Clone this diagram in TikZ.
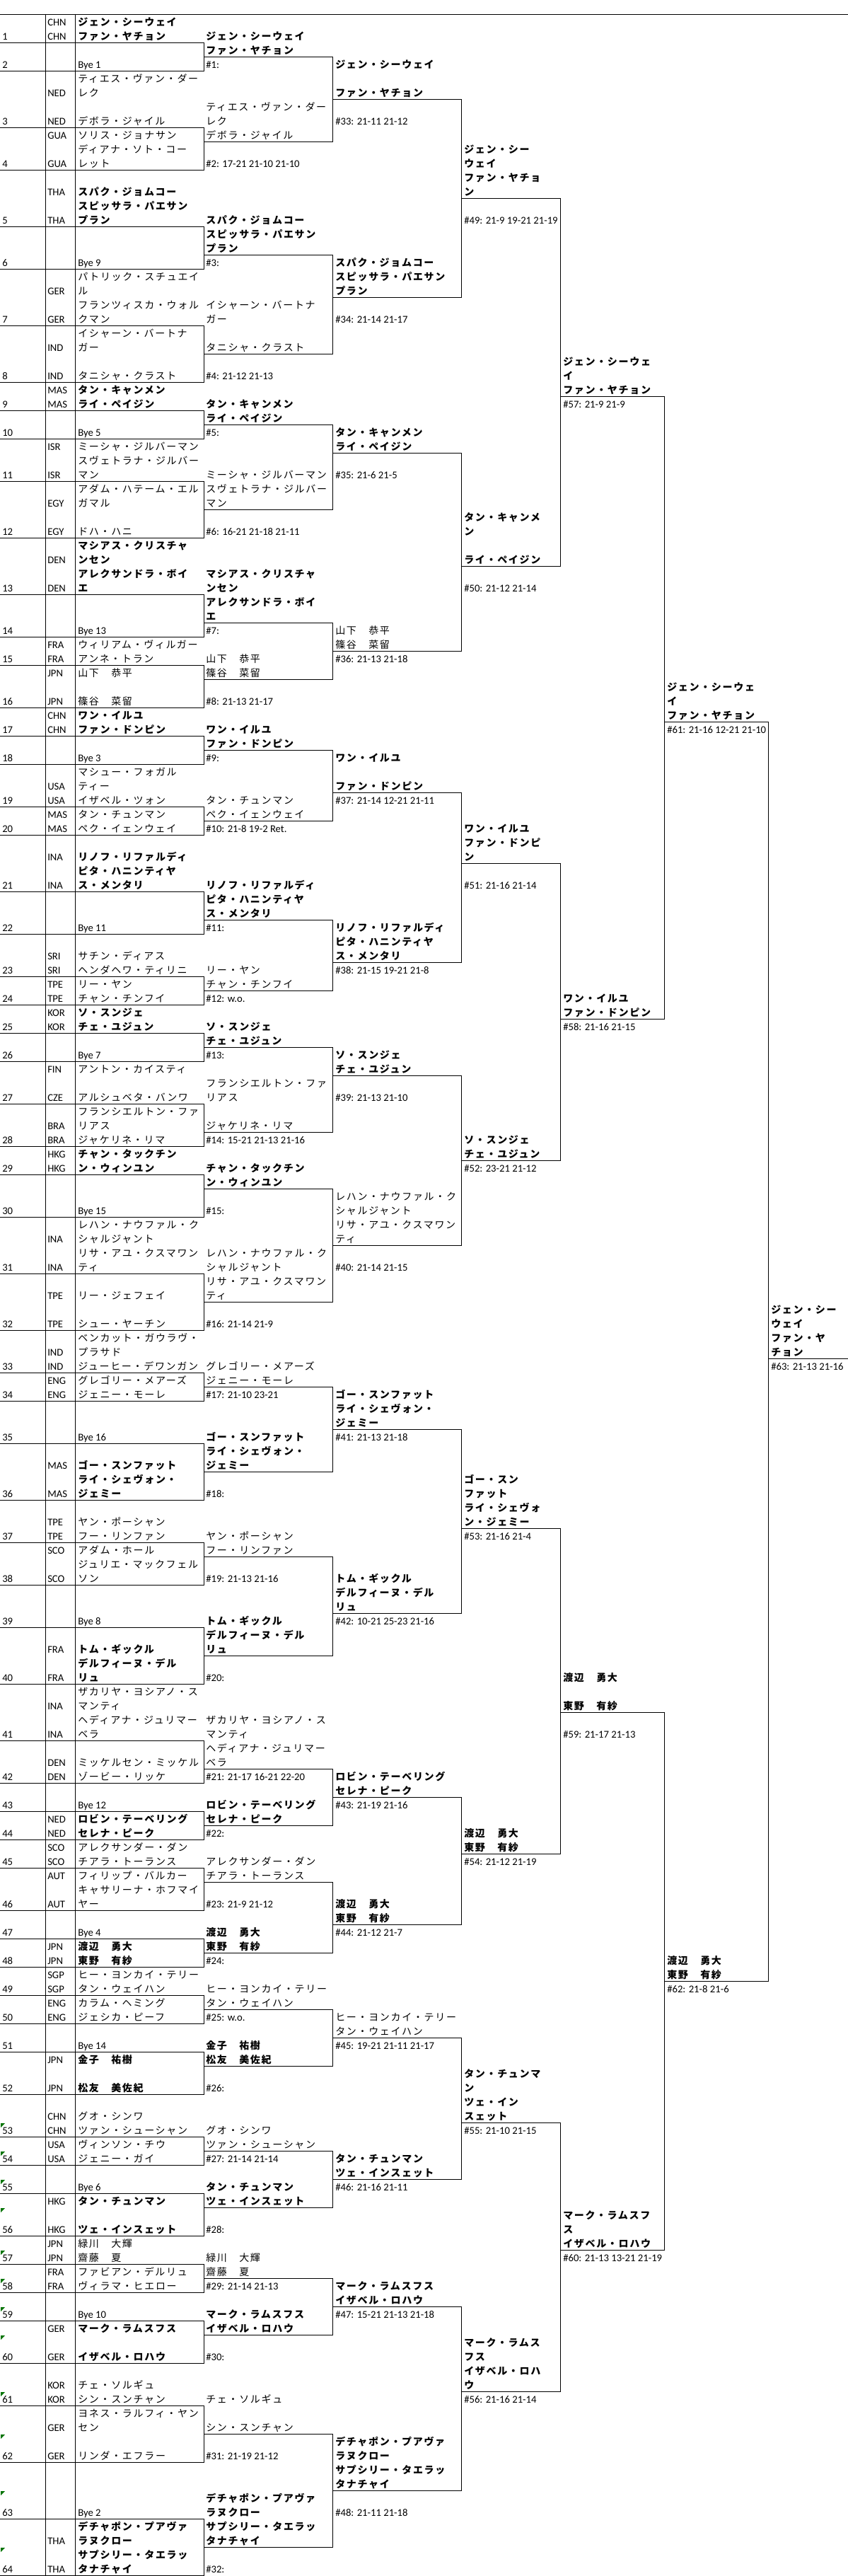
\documentclass[tikz,border=0pt]{standalone}
\usepackage{fontspec}
\setmainfont{Carlito}
\newfontfamily\jpfont[LetterSpace=12]{Noto Sans CJK JP}
\tikzset{
  lat/.style={font=\fontsize{11}{13}\selectfont, anchor=base west, inner sep=0pt},
  jpr/.style={font=\jpfont\fontsize{10.5}{12}\selectfont, anchor=base west, inner sep=0pt},
  jpb/.style={font=\jpfont\bfseries\fontsize{10.5}{12}\selectfont, anchor=base west, inner sep=0pt},
  rule/.style={line width=0.75pt, line cap=rect},
  flag/.style={fill=green!45!black},
}
\newcommand{\cjkr}[3]{\node[jpr] at (#1,#2.8) {#3};}
\newcommand{\cjkb}[3]{\node[jpb] at (#1,#2.8) {#3};}
\newcommand{\latn}[3]{\node[lat] at (#1,#2.8) {#3};}
\begin{document}
\begin{tikzpicture}[x=0.75pt, y=-15pt]
      \useasboundingbox (0,0) rectangle (1199,182.05);
      \begin{scope}[rule]
        \draw (0,1) -- (1199,1);
        \draw (64,1) -- (64,182) (106,1) -- (106,182);
        \draw
          (0,3) -- (288,3) (0,5) -- (288,5) (0,9) -- (288,9) (0,12) -- (288,12)
          (0,16) -- (288,16) (0,19) -- (288,19) (0,23) -- (288,23) (0,27) -- (288,27)
          (0,29) -- (288,29) (0,31) -- (288,31) (0,34) -- (288,34) (0,38) -- (288,38)
          (0,42) -- (288,42) (0,45) -- (288,45) (0,47) -- (288,47) (0,50) -- (288,50)
          (0,52) -- (288,52) (0,54) -- (288,54) (0,57) -- (288,57) (0,59) -- (288,59)
          (0,63) -- (288,63) (0,66) -- (288,66) (0,69) -- (288,69) (0,71) -- (288,71)
          (0,73) -- (288,73) (0,75) -- (288,75) (0,78) -- (288,78) (0,81) -- (288,81)
          (0,83) -- (288,83) (0,86) -- (288,86) (0,90) -- (288,90) (0,94) -- (288,94)
          (0,97) -- (288,97) (0,99) -- (288,99) (0,102) -- (288,102) (0,106) -- (288,106)
          (0,109) -- (288,109) (0,112) -- (288,112) (0,115) -- (288,115) (0,119) -- (288,119)
          (0,123) -- (288,123) (0,126) -- (288,126) (0,128) -- (288,128) (0,130) -- (288,130)
          (0,132) -- (288,132) (0,135) -- (288,135) (0,137) -- (288,137) (0,139) -- (288,139)
          (0,141) -- (288,141) (0,143) -- (288,143) (0,145) -- (288,145) (0,148) -- (288,148)
          (0,151) -- (288,151) (0,153) -- (288,153) (0,155) -- (288,155) (0,158) -- (288,158)
          (0,160) -- (288,160) (0,162) -- (288,162) (0,164) -- (288,164) (0,167) -- (288,167)
          (0,170) -- (288,170) (0,174) -- (288,174) (0,178) -- (288,178) (0,182) -- (288,182);
        \draw
          (288,3) -- (288,5) (288,9) -- (288,12) (288,16) -- (288,19) (288,23) -- (288,27)
          (288,29) -- (288,31) (288,34) -- (288,38) (288,42) -- (288,45) (288,47) -- (288,50)
          (288,52) -- (288,54) (288,57) -- (288,59) (288,63) -- (288,66) (288,69) -- (288,71)
          (288,73) -- (288,75) (288,78) -- (288,81) (288,83) -- (288,86) (288,90) -- (288,94)
          (288,97) -- (288,99) (288,102) -- (288,106) (288,109) -- (288,112) (288,115) -- (288,119)
          (288,123) -- (288,126) (288,128) -- (288,130) (288,132) -- (288,135) (288,137) -- (288,139)
          (288,141) -- (288,143) (288,145) -- (288,148) (288,151) -- (288,153) (288,155) -- (288,158)
          (288,160) -- (288,162) (288,164) -- (288,167) (288,170) -- (288,174) (288,178) -- (288,182);
        \draw
          (288,4) -- (470,4) -- (470,10) -- (288,10)
          (288,18) -- (470,18) -- (470,25) -- (288,25)
          (288,30) -- (470,30) -- (470,36) -- (288,36)
          (288,44) -- (470,44) -- (470,48) -- (288,48)
          (288,53) -- (470,53) -- (470,58) -- (288,58)
          (288,65) -- (470,65) -- (470,70) -- (288,70)
          (288,74) -- (470,74) -- (470,80) -- (288,80)
          (288,84) -- (470,84) -- (470,92) -- (288,92)
          (288,98) -- (470,98) -- (470,104) -- (288,104)
          (288,110) -- (470,110) -- (470,117) -- (288,117)
          (288,125) -- (470,125) -- (470,129) -- (288,129)
          (288,133) -- (470,133) -- (470,138) -- (288,138)
          (288,142) -- (470,142) -- (470,146) -- (288,146)
          (288,152) -- (470,152) -- (470,156) -- (288,156)
          (288,161) -- (470,161) -- (470,165) -- (288,165)
          (288,172) -- (470,172) -- (470,180) -- (288,180);
        \draw
          (470,7) -- (652,7) -- (652,21) -- (470,21)
          (470,32) -- (652,32) -- (652,46) -- (470,46)
          (470,56) -- (652,56) -- (652,68) -- (470,68)
          (470,76) -- (652,76) -- (652,88) -- (470,88)
          (470,101) -- (652,101) -- (652,114) -- (470,114)
          (470,127) -- (652,127) -- (652,136) -- (470,136)
          (470,144) -- (652,144) -- (652,154) -- (470,154)
          (470,163) -- (652,163) -- (652,176) -- (470,176);
        \draw
          (652,14) -- (792,14) -- (792,40) -- (652,40)
          (652,61) -- (792,61) -- (792,82) -- (652,82)
          (652,108) -- (792,108) -- (792,131) -- (652,131)
          (652,150) -- (792,150) -- (792,169) -- (652,169);
        \draw
          (792,28) -- (939,28) -- (939,72) -- (792,72)
          (792,121) -- (939,121) -- (939,159) -- (792,159);
        \draw (939,51) -- (1086,51) -- (1086,140) -- (939,140);
        \draw (1086,96) -- (1199,96);
      \end{scope}
      \fill[flag] (1,150.05) -- ++(6,0) -- ++(-6,0.3) -- cycle;
      \fill[flag] (1,152.05) -- ++(6,0) -- ++(-6,0.3) -- cycle;
      \fill[flag] (1,154.05) -- ++(6,0) -- ++(-6,0.3) -- cycle;
      \fill[flag] (1,156.05) -- ++(6,0) -- ++(-6,0.3) -- cycle;
      \fill[flag] (1,159.05) -- ++(6,0) -- ++(-6,0.3) -- cycle;
      \fill[flag] (1,161.05) -- ++(6,0) -- ++(-6,0.3) -- cycle;
      \fill[flag] (1,163.05) -- ++(6,0) -- ++(-6,0.3) -- cycle;
      \fill[flag] (1,165.05) -- ++(6,0) -- ++(-6,0.3) -- cycle;
      \fill[flag] (1,169.05) -- ++(6,0) -- ++(-6,0.3) -- cycle;
      \fill[flag] (1,172.05) -- ++(6,0) -- ++(-6,0.3) -- cycle;
      \fill[flag] (1,176.05) -- ++(6,0) -- ++(-6,0.3) -- cycle;
      \fill[flag] (1,180.05) -- ++(6,0) -- ++(-6,0.3) -- cycle;
      \draw
        (3,2.8) node[lat] (s1){1} (3,4.8) node[lat] (s2){2} (3,8.8) node[lat] (s3){3}
        (3,11.8) node[lat] (s4){4} (3,15.8) node[lat] (s5){5} (3,18.8) node[lat] (s6){6}
        (3,22.8) node[lat] (s7){7} (3,26.8) node[lat] (s8){8} (3,28.8) node[lat] (s9){9}
        (3,30.8) node[lat] (s10){10} (3,33.8) node[lat] (s11){11} (3,37.8) node[lat] (s12){12}
        (3,41.8) node[lat] (s13){13} (3,44.8) node[lat] (s14){14} (3,46.8) node[lat] (s15){15}
        (3,49.8) node[lat] (s16){16} (3,51.8) node[lat] (s17){17} (3,53.8) node[lat] (s18){18}
        (3,56.8) node[lat] (s19){19} (3,58.8) node[lat] (s20){20} (3,62.8) node[lat] (s21){21}
        (3,65.8) node[lat] (s22){22} (3,68.8) node[lat] (s23){23} (3,70.8) node[lat] (s24){24}
        (3,72.8) node[lat] (s25){25} (3,74.8) node[lat] (s26){26} (3,77.8) node[lat] (s27){27}
        (3,80.8) node[lat] (s28){28} (3,82.8) node[lat] (s29){29} (3,85.8) node[lat] (s30){30}
        (3,89.8) node[lat] (s31){31} (3,93.8) node[lat] (s32){32} (3,96.8) node[lat] (s33){33}
        (3,98.8) node[lat] (s34){34} (3,101.8) node[lat] (s35){35} (3,105.8) node[lat] (s36){36}
        (3,108.8) node[lat] (s37){37} (3,111.8) node[lat] (s38){38} (3,114.8) node[lat] (s39){39}
        (3,118.8) node[lat] (s40){40} (3,122.8) node[lat] (s41){41} (3,125.8) node[lat] (s42){42}
        (3,127.8) node[lat] (s43){43} (3,129.8) node[lat] (s44){44} (3,131.8) node[lat] (s45){45}
        (3,134.8) node[lat] (s46){46} (3,136.8) node[lat] (s47){47} (3,138.8) node[lat] (s48){48}
        (3,140.8) node[lat] (s49){49} (3,142.8) node[lat] (s50){50} (3,144.8) node[lat] (s51){51}
        (3,147.8) node[lat] (s52){52} (3,150.8) node[lat] (s53){53} (3,152.8) node[lat] (s54){54}
        (3,154.8) node[lat] (s55){55} (3,157.8) node[lat] (s56){56} (3,159.8) node[lat] (s57){57}
        (3,161.8) node[lat] (s58){58} (3,163.8) node[lat] (s59){59} (3,166.8) node[lat] (s60){60}
        (3,169.8) node[lat] (s61){61} (3,173.8) node[lat] (s62){62} (3,177.8) node[lat] (s63){63}
        (3,181.8) node[lat] (s64){64};
      \latn{67}{1}{CHN} \latn{67}{2}{CHN} \latn{67}{6}{NED} \latn{67}{8}{NED}
      \latn{67}{9}{GUA} \latn{67}{11}{GUA} \latn{67}{13}{THA} \latn{67}{15}{THA}
      \latn{67}{20}{GER} \latn{67}{22}{GER} \latn{67}{24}{IND} \latn{67}{26}{IND}
      \latn{67}{27}{MAS} \latn{67}{28}{MAS} \latn{67}{31}{ISR} \latn{67}{33}{ISR}
      \latn{67}{35}{EGY} \latn{67}{37}{EGY} \latn{67}{39}{DEN} \latn{67}{41}{DEN}
      \latn{67}{45}{FRA} \latn{67}{46}{FRA} \latn{67}{47}{JPN} \latn{67}{49}{JPN}
      \latn{67}{50}{CHN} \latn{67}{51}{CHN} \latn{67}{55}{USA} \latn{67}{56}{USA}
      \latn{67}{57}{MAS} \latn{67}{58}{MAS} \latn{67}{60}{INA} \latn{67}{62}{INA}
      \latn{67}{67}{SRI} \latn{67}{68}{SRI} \latn{67}{69}{TPE} \latn{67}{70}{TPE}
      \latn{67}{71}{KOR} \latn{67}{72}{KOR} \latn{67}{75}{FIN} \latn{67}{77}{CZE}
      \latn{67}{79}{BRA} \latn{67}{80}{BRA} \latn{67}{81}{HKG} \latn{67}{82}{HKG}
      \latn{67}{87}{INA} \latn{67}{89}{INA} \latn{67}{91}{TPE} \latn{67}{93}{TPE}
      \latn{67}{95}{IND} \latn{67}{96}{IND} \latn{67}{97}{ENG} \latn{67}{98}{ENG}
      \latn{67}{103}{MAS} \latn{67}{105}{MAS} \latn{67}{107}{TPE} \latn{67}{108}{TPE}
      \latn{67}{109}{SCO} \latn{67}{111}{SCO} \latn{67}{116}{FRA} \latn{67}{118}{FRA}
      \latn{67}{120}{INA} \latn{67}{122}{INA} \latn{67}{124}{DEN} \latn{67}{125}{DEN}
      \latn{67}{128}{NED} \latn{67}{129}{NED} \latn{67}{130}{SCO} \latn{67}{131}{SCO}
      \latn{67}{132}{AUT} \latn{67}{134}{AUT} \latn{67}{137}{JPN} \latn{67}{138}{JPN}
      \latn{67}{139}{SGP} \latn{67}{140}{SGP} \latn{67}{141}{ENG} \latn{67}{142}{ENG}
      \latn{67}{145}{JPN} \latn{67}{147}{JPN} \latn{67}{149}{CHN} \latn{67}{150}{CHN}
      \latn{67}{151}{USA} \latn{67}{152}{USA} \latn{67}{155}{HKG} \latn{67}{157}{HKG}
      \latn{67}{158}{JPN} \latn{67}{159}{JPN} \latn{67}{160}{FRA} \latn{67}{161}{FRA}
      \latn{67}{164}{GER} \latn{67}{166}{GER} \latn{67}{168}{KOR} \latn{67}{169}{KOR}
      \latn{67}{171}{GER} \latn{67}{173}{GER} \latn{67}{179}{THA} \latn{67}{181}{THA}
      \cjkb{110}{1}{ジェン・シーウェイ} \cjkb{110}{2}{ファン・ヤチョン}
      \latn{110}{4}{Bye 1}
      \cjkr{110}{5}{ティエス・ヴァン・ダー} \cjkr{110}{6}{レク} \cjkr{110}{8}{デボラ・ジャイル}
      \cjkr{110}{9}{ソリス・ジョナサン} \cjkr{110}{10}{ディアナ・ソト・コー} \cjkr{110}{11}{レット}
      \cjkb{110}{13}{スパク・ジョムコー} \cjkb{110}{14}{スピッサラ・パエサン} \cjkb{110}{15}{プラン}
      \latn{110}{18}{Bye 9}
      \cjkr{110}{19}{パトリック・スチュエイ} \cjkr{110}{20}{ル}
      \cjkr{110}{21}{フランツィスカ・ウォル} \cjkr{110}{22}{クマン}
      \cjkr{110}{23}{イシャーン・バートナ} \cjkr{110}{24}{ガー} \cjkr{110}{26}{タニシャ・クラスト}
      \cjkb{110}{27}{タン・キャンメン} \cjkb{110}{28}{ライ・ペイジン}
      \latn{110}{30}{Bye 5}
      \cjkr{110}{31}{ミーシャ・ジルバーマン} \cjkr{110}{32}{スヴェトラナ・ジルバー} \cjkr{110}{33}{マン}
      \cjkr{110}{34}{アダム・ハテーム・エル} \cjkr{110}{35}{ガマル} \cjkr{110}{37}{ドハ・ハニ}
      \cjkb{110}{38}{マシアス・クリスチャ} \cjkb{110}{39}{ンセン}
      \cjkb{110}{40}{アレクサンドラ・ボイ} \cjkb{110}{41}{エ}
      \latn{110}{44}{Bye 13}
      \cjkr{110}{45}{ウィリアム・ヴィルガー} \cjkr{110}{46}{アンネ・トラン}
      \cjkr{110}{47}{山下　恭平} \cjkr{110}{49}{篠谷　菜留}
      \cjkb{110}{50}{ワン・イルユ} \cjkb{110}{51}{ファン・ドンピン}
      \latn{110}{53}{Bye 3}
      \cjkr{110}{54}{マシュー・フォガル} \cjkr{110}{55}{ティー} \cjkr{110}{56}{イザベル・ツォン}
      \cjkr{110}{57}{タン・チュンマン} \cjkr{110}{58}{ペク・イェンウェイ}
      \cjkb{110}{60}{リノフ・リファルディ} \cjkb{110}{61}{ピタ・ハニンティヤ} \cjkb{110}{62}{ス・メンタリ}
      \latn{110}{65}{Bye 11}
      \cjkr{110}{67}{サチン・ディアス} \cjkr{110}{68}{ヘンダヘワ・ティリニ}
      \cjkr{110}{69}{リー・ヤン} \cjkr{110}{70}{チャン・チンフイ}
      \cjkb{110}{71}{ソ・スンジェ} \cjkb{110}{72}{チェ・ユジュン}
      \latn{110}{74}{Bye 7}
      \cjkr{110}{75}{アントン・カイスティ} \cjkr{110}{77}{アルシュベタ・バンワ}
      \cjkr{110}{78}{フランシエルトン・ファ} \cjkr{110}{79}{リアス} \cjkr{110}{80}{ジャケリネ・リマ}
      \cjkb{110}{81}{チャン・タックチン} \cjkb{110}{82}{ン・ウィンユン}
      \latn{110}{85}{Bye 15}
      \cjkr{110}{86}{レハン・ナウファル・ク} \cjkr{110}{87}{シャルジャント}
      \cjkr{110}{88}{リサ・アユ・クスマワン} \cjkr{110}{89}{ティ}
      \cjkr{110}{91}{リー・ジェフェイ} \cjkr{110}{93}{シュー・ヤーチン}
      \cjkr{110}{94}{ベンカット・ガウラヴ・} \cjkr{110}{95}{プラサド} \cjkr{110}{96}{ジューヒー・デワンガン}
      \cjkr{110}{97}{グレゴリー・メアーズ} \cjkr{110}{98}{ジェニー・モーレ}
      \latn{110}{101}{Bye 16}
      \cjkb{110}{103}{ゴー・スンファット} \cjkb{110}{104}{ライ・シェヴォン・} \cjkb{110}{105}{ジェミー}
      \cjkr{110}{107}{ヤン・ポーシャン} \cjkr{110}{108}{フー・リンファン}
      \cjkr{110}{109}{アダム・ホール} \cjkr{110}{110}{ジュリエ・マックフェル} \cjkr{110}{111}{ソン}
      \latn{110}{114}{Bye 8}
      \cjkb{110}{116}{トム・ギックル} \cjkb{110}{117}{デルフィーヌ・デル} \cjkb{110}{118}{リュ}
      \cjkr{110}{119}{ザカリヤ・ヨシアノ・ス} \cjkr{110}{120}{マンティ}
      \cjkr{110}{121}{ヘディアナ・ジュリマー} \cjkr{110}{122}{ベラ}
      \cjkr{110}{124}{ミッケルセン・ミッケル} \cjkr{110}{125}{ゾービー・リッケ}
      \latn{110}{127}{Bye 12}
      \cjkb{110}{128}{ロビン・テーベリング} \cjkb{110}{129}{セレナ・ピーク}
      \cjkr{110}{130}{アレクサンダー・ダン} \cjkr{110}{131}{チアラ・トーランス}
      \cjkr{110}{132}{フィリップ・バルカー} \cjkr{110}{133}{キャサリーナ・ホフマイ} \cjkr{110}{134}{ヤー}
      \latn{110}{136}{Bye 4}
      \cjkb{110}{137}{渡辺　勇大} \cjkb{110}{138}{東野　有紗}
      \cjkr{110}{139}{ヒー・ヨンカイ・テリー} \cjkr{110}{140}{タン・ウェイハン}
      \cjkr{110}{141}{カラム・ヘミング} \cjkr{110}{142}{ジェシカ・ピーフ}
      \latn{110}{144}{Bye 14}
      \cjkb{110}{145}{金子　祐樹} \cjkb{110}{147}{松友　美佐紀}
      \cjkr{110}{149}{グオ・シンワ} \cjkr{110}{150}{ツァン・シューシャン}
      \cjkr{110}{151}{ヴィンソン・チウ} \cjkr{110}{152}{ジェニー・ガイ}
      \latn{110}{154}{Bye 6}
      \cjkb{110}{155}{タン・チュンマン} \cjkb{110}{157}{ツェ・インスェット}
      \cjkr{110}{158}{緑川　大輝} \cjkr{110}{159}{齋藤　夏}
      \cjkr{110}{160}{ファビアン・デルリュ} \cjkr{110}{161}{ヴィラマ・ヒエロー}
      \latn{110}{163}{Bye 10}
      \cjkb{110}{164}{マーク・ラムスフス} \cjkb{110}{166}{イザベル・ロハウ}
      \cjkr{110}{168}{チェ・ソルギュ} \cjkr{110}{169}{シン・スンチャン}
      \cjkr{110}{170}{ヨネス・ラルフィ・ヤン} \cjkr{110}{171}{セン} \cjkr{110}{173}{リンダ・エフラー}
      \latn{110}{177}{Bye 2}
      \cjkb{110}{178}{デチャポン・プアヴァ} \cjkb{110}{179}{ラヌクロー}
      \cjkb{110}{180}{サプシリー・タエラッ} \cjkb{110}{181}{タナチャイ}
      \cjkb{291}{2}{ジェン・シーウェイ} \cjkb{291}{3}{ファン・ヤチョン} \latn{291}{4}{\#1:}
      \cjkr{291}{7}{ティエス・ヴァン・ダー} \cjkr{291}{8}{レク} \cjkr{291}{9}{デボラ・ジャイル}
      \latn{291}{11}{\#2: 17-21 21-10 21-10}
      \cjkb{291}{15}{スパク・ジョムコー} \cjkb{291}{16}{スピッサラ・パエサン} \cjkb{291}{17}{プラン}
      \latn{291}{18}{\#3:}
      \cjkr{291}{21}{イシャーン・バートナ} \cjkr{291}{22}{ガー} \cjkr{291}{24}{タニシャ・クラスト}
      \latn{291}{26}{\#4: 21-12 21-13}
      \cjkb{291}{28}{タン・キャンメン} \cjkb{291}{29}{ライ・ペイジン} \latn{291}{30}{\#5:}
      \cjkr{291}{33}{ミーシャ・ジルバーマン} \cjkr{291}{34}{スヴェトラナ・ジルバー} \cjkr{291}{35}{マン}
      \latn{291}{37}{\#6: 16-21 21-18 21-11}
      \cjkb{291}{40}{マシアス・クリスチャ} \cjkb{291}{41}{ンセン}
      \cjkb{291}{42}{アレクサンドラ・ボイ} \cjkb{291}{43}{エ} \latn{291}{44}{\#7:}
      \cjkr{291}{46}{山下　恭平} \cjkr{291}{47}{篠谷　菜留} \latn{291}{49}{\#8: 21-13 21-17}
      \cjkb{291}{51}{ワン・イルユ} \cjkb{291}{52}{ファン・ドンピン} \latn{291}{53}{\#9:}
      \cjkr{291}{56}{タン・チュンマン} \cjkr{291}{57}{ペク・イェンウェイ}
      \latn{291}{58}{\#10: 21-8 19-2 Ret.}
      \cjkb{291}{62}{リノフ・リファルディ} \cjkb{291}{63}{ピタ・ハニンティヤ} \cjkb{291}{64}{ス・メンタリ}
      \latn{291}{65}{\#11:}
      \cjkr{291}{68}{リー・ヤン} \cjkr{291}{69}{チャン・チンフイ} \latn{291}{70}{\#12: w.o.}
      \cjkb{291}{72}{ソ・スンジェ} \cjkb{291}{73}{チェ・ユジュン} \latn{291}{74}{\#13:}
      \cjkr{291}{76}{フランシエルトン・ファ} \cjkr{291}{77}{リアス} \cjkr{291}{79}{ジャケリネ・リマ}
      \latn{291}{80}{\#14: 15-21 21-13 21-16}
      \cjkb{291}{82}{チャン・タックチン} \cjkb{291}{83}{ン・ウィンユン} \latn{291}{85}{\#15:}
      \cjkr{291}{88}{レハン・ナウファル・ク} \cjkr{291}{89}{シャルジャント}
      \cjkr{291}{90}{リサ・アユ・クスマワン} \cjkr{291}{91}{ティ}
      \latn{291}{93}{\#16: 21-14 21-9}
      \cjkr{291}{96}{グレゴリー・メアーズ} \cjkr{291}{97}{ジェニー・モーレ}
      \latn{291}{98}{\#17: 21-10 23-21}
      \cjkb{291}{101}{ゴー・スンファット} \cjkb{291}{102}{ライ・シェヴォン・} \cjkb{291}{103}{ジェミー}
      \latn{291}{105}{\#18:}
      \cjkr{291}{108}{ヤン・ポーシャン} \cjkr{291}{109}{フー・リンファン}
      \latn{291}{111}{\#19: 21-13 21-16}
      \cjkb{291}{114}{トム・ギックル} \cjkb{291}{115}{デルフィーヌ・デル} \cjkb{291}{116}{リュ}
      \latn{291}{118}{\#20:}
      \cjkr{291}{121}{ザカリヤ・ヨシアノ・ス} \cjkr{291}{122}{マンティ}
      \cjkr{291}{123}{ヘディアナ・ジュリマー} \cjkr{291}{124}{ベラ}
      \latn{291}{125}{\#21: 21-17 16-21 22-20}
      \cjkb{291}{127}{ロビン・テーベリング} \cjkb{291}{128}{セレナ・ピーク} \latn{291}{129}{\#22:}
      \cjkr{291}{131}{アレクサンダー・ダン} \cjkr{291}{132}{チアラ・トーランス}
      \latn{291}{134}{\#23: 21-9 21-12}
      \cjkb{291}{136}{渡辺　勇大} \cjkb{291}{137}{東野　有紗} \latn{291}{138}{\#24:}
      \cjkr{291}{140}{ヒー・ヨンカイ・テリー} \cjkr{291}{141}{タン・ウェイハン}
      \latn{291}{142}{\#25: w.o.}
      \cjkb{291}{144}{金子　祐樹} \cjkb{291}{145}{松友　美佐紀} \latn{291}{147}{\#26:}
      \cjkr{291}{150}{グオ・シンワ} \cjkr{291}{151}{ツァン・シューシャン}
      \latn{291}{152}{\#27: 21-14 21-14}
      \cjkb{291}{154}{タン・チュンマン} \cjkb{291}{155}{ツェ・インスェット} \latn{291}{157}{\#28:}
      \cjkr{291}{159}{緑川　大輝} \cjkr{291}{160}{齋藤　夏} \latn{291}{161}{\#29: 21-14 21-13}
      \cjkb{291}{163}{マーク・ラムスフス} \cjkb{291}{164}{イザベル・ロハウ} \latn{291}{166}{\#30:}
      \cjkr{291}{169}{チェ・ソルギュ} \cjkr{291}{171}{シン・スンチャン}
      \latn{291}{173}{\#31: 21-19 21-12}
      \cjkb{291}{176}{デチャポン・プアヴァ} \cjkb{291}{177}{ラヌクロー}
      \cjkb{291}{178}{サプシリー・タエラッ} \cjkb{291}{179}{タナチャイ} \latn{291}{181}{\#32:}
      \cjkb{474}{4}{ジェン・シーウェイ} \cjkb{474}{6}{ファン・ヤチョン} \latn{474}{8}{\#33: 21-11 21-12}
      \cjkb{474}{18}{スパク・ジョムコー} \cjkb{474}{19}{スピッサラ・パエサン} \cjkb{474}{20}{プラン}
      \latn{474}{22}{\#34: 21-14 21-17}
      \cjkb{474}{30}{タン・キャンメン} \cjkb{474}{31}{ライ・ペイジン} \latn{474}{33}{\#35: 21-6 21-5}
      \cjkr{474}{44}{山下　恭平} \cjkr{474}{45}{篠谷　菜留} \latn{474}{46}{\#36: 21-13 21-18}
      \cjkb{474}{53}{ワン・イルユ} \cjkb{474}{55}{ファン・ドンピン} \latn{474}{56}{\#37: 21-14 12-21 21-11}
      \cjkb{474}{65}{リノフ・リファルディ} \cjkb{474}{66}{ピタ・ハニンティヤ} \cjkb{474}{67}{ス・メンタリ}
      \latn{474}{68}{\#38: 21-15 19-21 21-8}
      \cjkb{474}{74}{ソ・スンジェ} \cjkb{474}{75}{チェ・ユジュン} \latn{474}{77}{\#39: 21-13 21-10}
      \cjkr{474}{84}{レハン・ナウファル・ク} \cjkr{474}{85}{シャルジャント}
      \cjkr{474}{86}{リサ・アユ・クスマワン} \cjkr{474}{87}{ティ}
      \latn{474}{89}{\#40: 21-14 21-15}
      \cjkb{474}{98}{ゴー・スンファット} \cjkb{474}{99}{ライ・シェヴォン・} \cjkb{474}{100}{ジェミー}
      \latn{474}{101}{\#41: 21-13 21-18}
      \cjkb{474}{111}{トム・ギックル} \cjkb{474}{112}{デルフィーヌ・デル} \cjkb{474}{113}{リュ}
      \latn{474}{114}{\#42: 10-21 25-23 21-16}
      \cjkb{474}{125}{ロビン・テーベリング} \cjkb{474}{126}{セレナ・ピーク}
      \latn{474}{127}{\#43: 21-19 21-16}
      \cjkb{474}{134}{渡辺　勇大} \cjkb{474}{135}{東野　有紗} \latn{474}{136}{\#44: 21-12 21-7}
      \cjkr{474}{142}{ヒー・ヨンカイ・テリー} \cjkr{474}{143}{タン・ウェイハン}
      \latn{474}{144}{\#45: 19-21 21-11 21-17}
      \cjkb{474}{152}{タン・チュンマン} \cjkb{474}{153}{ツェ・インスェット}
      \latn{474}{154}{\#46: 21-16 21-11}
      \cjkb{474}{161}{マーク・ラムスフス} \cjkb{474}{162}{イザベル・ロハウ}
      \latn{474}{163}{\#47: 15-21 21-13 21-18}
      \cjkb{474}{172}{デチャポン・プアヴァ} \cjkb{474}{173}{ラヌクロー}
      \cjkb{474}{174}{サプシリー・タエラッ} \cjkb{474}{175}{タナチャイ}
      \latn{474}{177}{\#48: 21-11 21-18}
      \cjkb{656}{10}{ジェン・シー} \cjkb{656}{11}{ウェイ} \cjkb{656}{12}{ファン・ヤチョ} \cjkb{656}{13}{ン}
      \latn{656}{15}{\#49: 21-9 19-21 21-19}
      \cjkb{656}{36}{タン・キャンメ} \cjkb{656}{37}{ン} \cjkb{656}{39}{ライ・ペイジン}
      \latn{656}{41}{\#50: 21-12 21-14}
      \cjkb{656}{58}{ワン・イルユ} \cjkb{656}{59}{ファン・ドンピ} \cjkb{656}{60}{ン}
      \latn{656}{62}{\#51: 21-16 21-14}
      \cjkb{656}{80}{ソ・スンジェ} \cjkb{656}{81}{チェ・ユジュン} \latn{656}{82}{\#52: 23-21 21-12}
      \cjkb{656}{104}{ゴー・スン} \cjkb{656}{105}{ファット} \cjkb{656}{106}{ライ・シェヴォ} \cjkb{656}{107}{ン・ジェミー}
      \latn{656}{108}{\#53: 21-16 21-4}
      \cjkb{656}{129}{渡辺　勇大} \cjkb{656}{130}{東野　有紗} \latn{656}{131}{\#54: 21-12 21-19}
      \cjkb{656}{146}{タン・チュンマ} \cjkb{656}{147}{ン} \cjkb{656}{148}{ツェ・イン} \cjkb{656}{149}{スェット}
      \latn{656}{150}{\#55: 21-10 21-15}
      \cjkb{656}{165}{マーク・ラムス} \cjkb{656}{166}{フス} \cjkb{656}{167}{イザベル・ロハ} \cjkb{656}{168}{ウ}
      \latn{656}{169}{\#56: 21-16 21-14}
      \cjkb{796}{25}{ジェン・シーウェ} \cjkb{796}{26}{イ} \cjkb{796}{27}{ファン・ヤチョン}
      \latn{796}{28}{\#57: 21-9 21-9}
      \cjkb{796}{70}{ワン・イルユ} \cjkb{796}{71}{ファン・ドンピン} \latn{796}{72}{\#58: 21-16 21-15}
      \cjkb{796}{118}{渡辺　勇大} \cjkb{796}{120}{東野　有紗} \latn{796}{122}{\#59: 21-17 21-13}
      \cjkb{796}{156}{マーク・ラムスフ} \cjkb{796}{157}{ス} \cjkb{796}{158}{イザベル・ロハウ}
      \latn{796}{159}{\#60: 21-13 13-21 21-19}
      \cjkb{943}{48}{ジェン・シーウェ} \cjkb{943}{49}{イ} \cjkb{943}{50}{ファン・ヤチョン}
      \latn{943}{51}{\#61: 21-16 12-21 21-10}
      \cjkb{943}{138}{渡辺　勇大} \cjkb{943}{139}{東野　有紗} \latn{943}{140}{\#62: 21-8 21-6}
      \cjkb{1090}{92}{ジェン・シー} \cjkb{1090}{93}{ウェイ} \cjkb{1090}{94}{ファン・ヤ} \cjkb{1090}{95}{チョン}
      \latn{1090}{96}{\#63: 21-13 21-16}
    \end{tikzpicture}
\end{document}
